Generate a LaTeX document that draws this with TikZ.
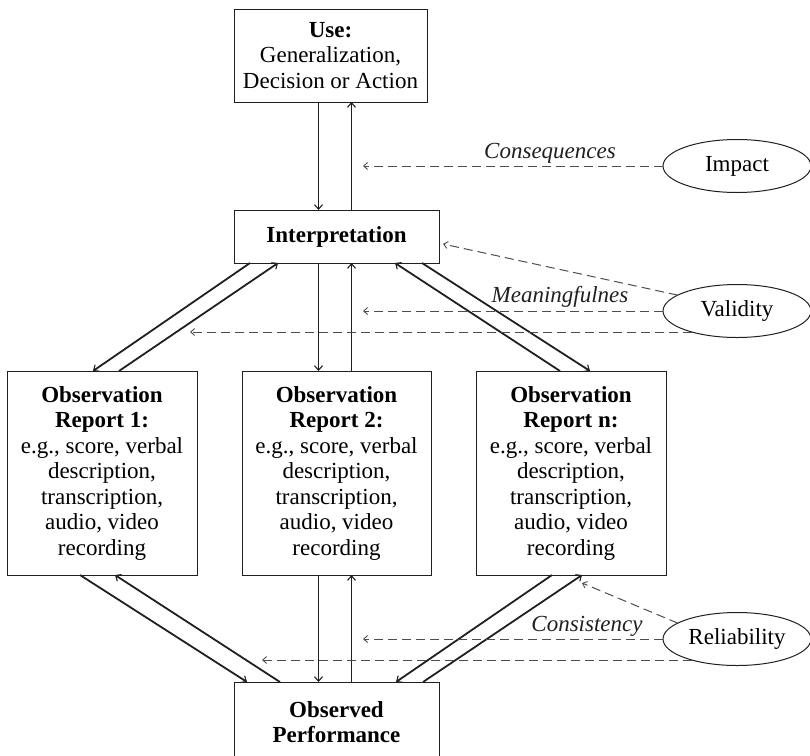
\documentclass[tikz,border=0pt]{standalone}
\usepackage{fontspec}
\setmainfont{Liberation Serif}
\usetikzlibrary{arrows.meta,shapes.geometric}
\definecolor{ink}{HTML}{231F20}
\definecolor{dashc}{HTML}{4D4D4D}
\begin{document}
\begin{tikzpicture}[x=1pt,y=-1pt,
  txt/.style={font=\fontsize{23}{25.5}\selectfont},
  box/.style={txt,draw=ink,line width=1pt,align=center,inner sep=0pt,outer sep=0pt},
  oval/.style={txt,draw=ink,line width=1pt,ellipse,inner sep=0pt,outer sep=0pt,
               minimum width=148pt,minimum height=53pt},
  lbl/.style={font=\fontsize{23}{25.5}\selectfont\itshape,text=ink,inner sep=0pt},
  arr/.style={draw=ink,line width=1.8pt,-{Straight Barb[length=4.5pt,width=8pt,line width=1.1pt]}},
  darr/.style={draw=dashc,line width=1pt,dash pattern=on 9pt off 5pt,
               -{Straight Barb[length=4pt,width=7pt,line width=0.9pt]}}]
\useasboundingbox (0,0) rectangle (810,755);

% boxes
\node[box,minimum width=193pt,minimum height=93pt] (use) at (330.5,55.5)
  {\bfseries Use:\\Generalization,\\Decision or Action};
\node[box,minimum width=205pt,minimum height=53pt] (interp) at (336.5,236.5)
  {\bfseries Interpretation};
\node[box,minimum width=190pt,minimum height=204pt] (obs1) at (102,473)
  {\bfseries Observation\\\bfseries Report 1:\\e.g., score, verbal\\description,\\transcription,\\audio, video\\recording};
\node[box,minimum width=189pt,minimum height=204pt] (obs2) at (336.5,473)
  {\bfseries Observation\\\bfseries Report 2:\\e.g., score, verbal\\description,\\transcription,\\audio, video\\recording};
\node[box,minimum width=190pt,minimum height=204pt] (obsn) at (571,473)
  {\bfseries Observation\\\bfseries Report n:\\e.g., score, verbal\\description,\\transcription,\\audio, video\\recording};
\node[box,minimum width=205pt,minimum height=80pt] (perf) at (336.5,722)
  {\bfseries Observed\\\bfseries Performance};

% ellipses
\node[oval] (impact) at (737,166) {Impact};
\node[oval] (validity) at (737,311) {Validity};
\node[oval] (reliab) at (737,639) {Reliability};

% columns for the vertical arrows and dashed ends
\coordinate (xa) at (318.5,0);
\coordinate (xb) at (351.5,0);
\coordinate (xl) at (363,0);
\coordinate (xv) at (190,0);
\coordinate (xr) at (262,0);

% use <-> interpretation
\draw[arr] (use.south -| xa) -- (interp.north -| xa);
\draw[arr] (interp.north -| xb) -- (use.south -| xb);

% interpretation <-> reports
\draw[arr] ([xshift=-86.5pt]interp.south) -- ([xshift=-9pt]obs1.north);
\draw[arr] ([xshift=17pt]obs1.north) -- ([xshift=-58.5pt]interp.south);
\draw[arr] (interp.south -| xa) -- (obs2.north -| xa);
\draw[arr] (obs2.north -| xb) -- (interp.south -| xb);
\draw[arr] ([xshift=85.5pt]interp.south) -- ([xshift=19pt]obsn.north);
\draw[arr] ([xshift=-11pt]obsn.north) -- ([xshift=58.5pt]interp.south);

% reports <-> observed performance
\draw[arr] ([xshift=-22pt]obs1.south) -- ([xshift=-89.5pt]perf.north);
\draw[arr] ([xshift=-56.5pt]perf.north) -- ([xshift=13pt]obs1.south);
\draw[arr] (obs2.south -| xa) -- (perf.north -| xa);
\draw[arr] (perf.north -| xb) -- (obs2.south -| xb);
\draw[arr] ([xshift=-19pt]obsn.south) -- ([xshift=59.5pt]perf.north);
\draw[arr] ([xshift=86.5pt]perf.north) -- ([xshift=11pt]obsn.south);

% dashed influences
\draw[darr] (impact.west) -- (impact.west -| xl);
\node[lbl] (cons) at (550,153) {Consequences};

\draw[darr] (validity.165) -- ([shift={(4pt,-7.5pt)}]interp.east);
\draw[darr] (validity.west) -- (validity.west -| xl);
\node[lbl] (mean) at (560,297) {Meaningfulnes};
\draw[darr] (validity.205) -- (validity.205 -| xv);

\draw[darr] (reliab.165) -- ([shift={(11pt,-8pt)}]obsn.south);
\draw[darr] (reliab.west) -- (reliab.west -| xl);
\node[lbl] (consist) at (587,626) {Consistency};
\draw[darr] (reliab.205) -- (reliab.205 -| xr);
\end{tikzpicture}
\end{document}
